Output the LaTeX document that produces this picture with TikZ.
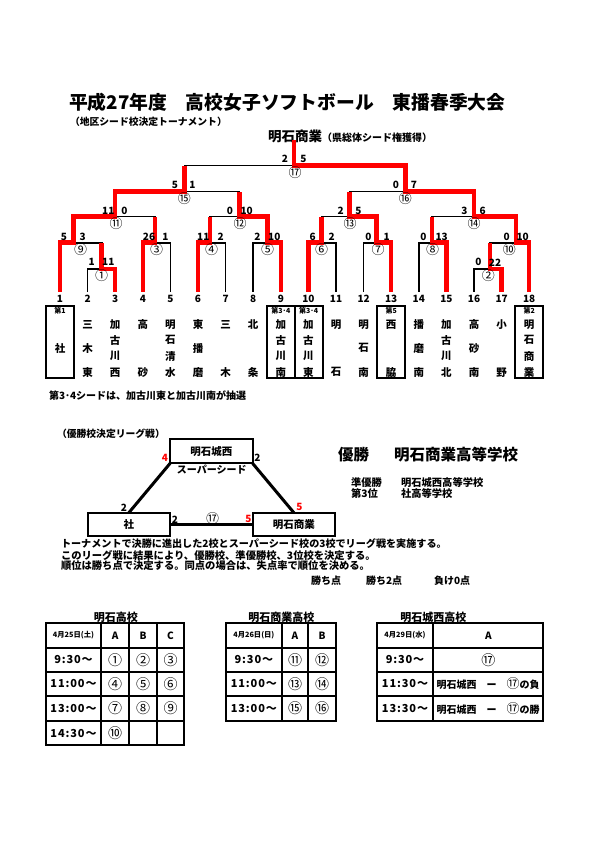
\documentclass[tikz,border=0pt]{standalone}
\usepackage{fontspec}
\setmainfont{Noto Sans CJK JP}
\definecolor{wred}{RGB}{255,0,0}
\newcommand\tmsp[1]{{\addfontfeature{LetterSpace=8}#1}}
\begin{document}
\begin{tikzpicture}[x=1pt,y=-1pt,
  every node/.style={inner sep=0pt, outer sep=0pt},
  bl/.style={line width=1.6pt, black},
  rd/.style={line width=4.5pt, wred, line join=miter},
  sc/.style={font=\fontsize{10}{12}\selectfont\bfseries},
  cn/.style={font=\fontsize{13}{14}\selectfont},
  tn/.style={font=\fontsize{10.5}{12}\selectfont\bfseries},
  seed/.style={font=\fontsize{7}{8}\selectfont\bfseries},
  slotbox/.style={draw, line width=2pt, minimum width=28pt, minimum height=72pt},
  lbox/.style={draw, line width=2pt, minimum width=82.5pt, font=\fontsize{10.5}{12}\selectfont\bfseries},
  lline/.style={line width=3pt},
  body/.style={font=\fontsize{10.3}{12}\selectfont\bfseries, anchor=west},
  tab/.style={line width=2pt},
  tim/.style={font=\fontsize{11}{12}\selectfont\bfseries},
  tcn/.style={font=\fontsize{14}{15}\selectfont},
  hdr/.style={font=\fontsize{7.3}{8}\selectfont\bfseries},
  abc/.style={font=\fontsize{10}{12}\selectfont\bfseries},
  ttl/.style={font=\fontsize{11}{12}\selectfont\bfseries}
]
\fill[white] (0,0) rectangle (595,842);
\useasboundingbox (0,0) rectangle (595,842);

% titles
\node[anchor=west, font=\fontsize{18.8}{20}\selectfont\bfseries] (title) at (69,102) {平成27年度　高校女子ソフトボール　東播春季大会};
\node[anchor=west, font=\fontsize{9.8}{11}\selectfont\bfseries] (sub) at (70,121.7) {（地区シード校決定トーナメント）};
\node[anchor=west, font=\bfseries] (champ) at (268,136.7) {{\fontsize{13.5}{14}\selectfont 明石商業}{\fontsize{10}{11}\selectfont（県総体シード権獲得）}};

% slots
\foreach \i in {1,...,18}{
  \pgfmathsetmacro\xx{60+27.6*(\i-1)}
  \coordinate (s\i) at (\xx,291.7);
  \node[sc] (num\i) at (\xx,299) {\i};
}
% match points
\coordinate (m1) at (101.7,269);
\coordinate (m2) at (490,269);
\coordinate (m3) at (155,242.7);
\coordinate (m4) at (210,242.7);
\coordinate (m5) at (267.7,242.7);
\coordinate (m6) at (321.5,242.7);
\coordinate (m7) at (376.5,242.7);
\coordinate (m8) at (432,242.7);
\coordinate (m9) at (73.3,242.7);
\coordinate (m10) at (516,242.7);
\coordinate (m11) at (115,216.7);
\coordinate (m12) at (239.3,216.7);
\coordinate (m13) at (349.3,216.7);
\coordinate (m14) at (474,216.7);
\coordinate (m15) at (184.3,191.7);
\coordinate (m16) at (405.3,191.7);
\coordinate (m17) at (294,165.7);
\coordinate (top) at (294,140);

% black bracket
\draw[bl] (s2) |- (m1) -| (s3);
\draw[bl] (s16) |- (m2) -| (s17);
\draw[bl] (s4) |- (m3) -| (s5);
\draw[bl] (s6) |- (m4) -| (s7);
\draw[bl] (s8) |- (m5) -| (s9);
\draw[bl] (s10) |- (m6) -| (s11);
\draw[bl] (s12) |- (m7) -| (s13);
\draw[bl] (s14) |- (m8) -| (s15);
\draw[bl] (s1) |- (m9) -| (m1);
\draw[bl] (m2) |- (m10) -| (s18);
\draw[bl] (m9) |- (m11) -| (m3);
\draw[bl] (m4) |- (m12) -| (m5);
\draw[bl] (m6) |- (m13) -| (m7);
\draw[bl] (m8) |- (m14) -| (m10);
\draw[bl] (m11) |- (m15) -| (m12);
\draw[bl] (m13) |- (m16) -| (m14);
\draw[bl] (m15) |- (m17) -| (m16);

% red winners
\draw[rd] (s1) |- (m9) |- (m11) |- (m15) -- (m15 |- m17);
\draw[rd] (s3) |- (m1) -- (m1 |- m9);
\draw[rd] (s4) |- (m3) -- (m3 |- m11);
\draw[rd] (s6) |- (m4) -- (m4 |- m12);
\draw[rd] (s9) |- (m5) |- (m12) -- (m12 |- m15);
\draw[rd] (s10) |- (m6) -- (m6 |- m13);
\draw[rd] (s13) |- (m7) |- (m13) -- (m13 |- m16);
\draw[rd] (s15) |- (m8) -- (m8 |- m14);
\draw[rd] (s17) |- (m2) -- (m2 |- m10);
\draw[rd] (s18) |- (m10) |- (m14) |- (m16) |- (m17) -- (top);

% scores
\foreach \x/\y/\t [count=\k] in {
  91.7/262.3/1, 108.3/262.3/11, 478.3/262.3/0, 495/262.3/22,
  64/236.7/5, 82.7/236.7/3, 149/236.7/26, 165.3/236.7/1, 203.3/236.7/11, 220.7/236.7/2,
  257.3/236.7/2, 274.3/236.7/10, 312.7/236.7/6, 331.7/236.7/2, 368.3/236.7/0, 386.7/236.7/1,
  423.3/236.7/0, 441.7/236.7/13, 506.7/236.7/0, 522.7/236.7/10,
  108.3/211/11, 124.3/211/0, 230/211/0, 246.7/211/10, 340.7/211/2, 358.3/211/5, 464.3/211/3, 482.7/211/6,
  175/185/5, 192.3/185/1, 396/185/0, 414/185/7,
  285/159/2, 303.3/159/5}
  \node[sc] (score\k) at (\x,\y) {\t};

% match numbers
\foreach \x/\y/\t [count=\k] in {
  101.7/275.5/①, 488.3/275.5/②, 156.7/249.2/③, 211.7/249.2/④, 267.7/249.2/⑤, 321.7/249.2/⑥,
  378/249.2/⑦, 432.7/249.2/⑧, 80.7/249.2/⑨, 509.3/249.2/⑩, 116/223.2/⑪, 240/223.2/⑫,
  350/223.2/⑬, 474/223.2/⑭, 184.3/198.2/⑮, 405.3/198.2/⑯, 295/172.2/⑰}
  \node[cn] (mn\k) at (\x,\y) {\t};

% seed boxes
\node[slotbox] (b1) at (60,341.7) {};
\node[slotbox, minimum width=28.3pt] (b9) at (280.85,341.7) {};
\node[slotbox, minimum width=28.3pt] (b10) at (309.15,341.7) {};
\node[slotbox, minimum width=28.3pt] (b13) at (390.85,341.7) {};
\node[slotbox, minimum width=28.3pt] (b18) at (529.15,341.7) {};
\node[seed] (sd1) at (60,311) {第1};
\node[seed] (sd9) at (280.8,311) {第3･4};
\node[seed] (sd10) at (308.6,311) {第3･4};
\node[seed] (sd13) at (391.2,311) {第5};
\node[seed] (sd18) at (529.2,311) {第2};

% team names
\node[tn] (t1b) at (60,348.3) {社};
\foreach \s/\a/\b/\c in {2/三/木/東, 6/東/播/磨, 12/明/石/南, 14/播/磨/南, 16/高/砂/南}{
  \pgfmathsetmacro\xx{60+27.6*(\s-1)}
  \node[tn] (t\s a) at (\xx,324.3) {\a};
  \node[tn] (t\s b) at (\xx,348.3) {\b};
  \node[tn] (t\s c) at (\xx,372.3) {\c};
}
\foreach \s/\a/\b/\c/\d in {3/加/古/川/西, 5/明/石/清/水, 9/加/古/川/南, 10/加/古/川/東, 15/加/古/川/北, 18/明/石/商/業}{
  \pgfmathsetmacro\xx{60+27.6*(\s-1)}
  \node[tn] (t\s a) at (\xx,324.3) {\a};
  \node[tn] (t\s b) at (\xx,340.3) {\b};
  \node[tn] (t\s c) at (\xx,356.3) {\c};
  \node[tn] (t\s d) at (\xx,372.3) {\d};
}
\foreach \s/\a/\b in {4/高/砂, 7/三/木, 8/北/条, 11/明/石, 13/西/脇, 17/小/野}{
  \pgfmathsetmacro\xx{60+27.6*(\s-1)}
  \node[tn] (t\s a) at (\xx,324.3) {\a};
  \node[tn] (t\s b) at (\xx,372.3) {\b};
}
\node[body, font=\fontsize{10}{12}\selectfont\bfseries] (note) at (49,396) {第3･4シードは、加古川東と加古川南が抽選};

% league
\node[body, font=\fontsize{9.8}{12}\selectfont\bfseries] (lg) at (57,434) {（優勝校決定リーグ戦）};
\node[lbox, minimum height=24.3pt] (jo) at (211.35,451.2) {明石城西};
\node[font=\fontsize{10}{12}\selectfont\bfseries] (ss) at (211.7,469.3) {スーパーシード};
\node[lbox, minimum height=23.3pt] (sha) at (128.85,524.35) {社};
\node[lbox, minimum height=23.3pt] (sho) at (293.85,524.35) {明石商業};
\draw[lline] (jo.south west) -- (sha.north);
\draw[lline] (jo.south east) -- (sho.north);
\draw[lline] (sha.east) -- (sho.west);
\node[sc, wred] (l1) at (165,458.3) {4};
\node[sc] (l2) at (257.3,458) {2};
\node[sc] (l3) at (124,507.3) {2};
\node[sc, wred] (l4) at (299.3,507) {5};
\node[sc] (l5) at (175,519.3) {2};
\node[cn] (l6) at (212.7,519) {⑰};
\node[sc, wred] (l7) at (248.3,519.3) {5};

% results
\node[anchor=west, font=\fontsize{15.5}{17}\selectfont\bfseries] (r1) at (338,455) {優勝};
\node[anchor=west, font=\fontsize{15.5}{17}\selectfont\bfseries] (r2) at (394,455) {明石商業高等学校};
\node[anchor=west, font=\fontsize{10.3}{12}\selectfont\bfseries] (r3) at (351,482.7) {準優勝};
\node[anchor=west, font=\fontsize{10.3}{12}\selectfont\bfseries] (r4) at (401,482.7) {明石城西高等学校};
\node[anchor=west, font=\fontsize{10.3}{12}\selectfont\bfseries] (r5) at (351,493.3) {第3位};
\node[anchor=west, font=\fontsize{10.3}{12}\selectfont\bfseries] (r6) at (401,493.3) {社高等学校};

% rules
\node[body, font=\fontsize{10.1}{12}\selectfont\bfseries] (ru1) at (61,544) {トーナメントで決勝に進出した2校とスーパーシード校の3校でリーグ戦を実施する。};
\node[body] (ru2) at (61,555) {このリーグ戦に結果により、優勝校、準優勝校、3位校を決定する。};
\node[body] (ru3) at (61,566) {順位は勝ち点で決定する。同点の場合は、失点率で順位を決める。};
\node[body, font=\fontsize{10}{12}\selectfont\bfseries] (ru4) at (311,581) {勝ち点};
\node[body, font=\fontsize{10}{12}\selectfont\bfseries] (ru5) at (366,581) {勝ち2点};
\node[body, font=\fontsize{10}{12}\selectfont\bfseries] (ru6) at (434,581) {負け0点};

% table 1
\node[ttl] (tt1) at (115.8,617.5) {明石高校};
\draw[tab] (46,623.3) rectangle (184.3,745);
\foreach \y in {647.7,671.7,696,721} \draw[tab] (46,\y) -- (184.3,\y);
\foreach \x in {101,129.3,156.7} \draw[tab] (\x,623.3) -- (\x,745);
\node[hdr] (h1) at (73.5,635.5) {4月25日(土)};
\node[abc] (h1a) at (115.15,635.5) {A};
\node[abc] (h1b) at (143,635.5) {B};
\node[abc] (h1c) at (170.5,635.5) {C};
\foreach \y/\t/\a/\b/\c [count=\k] in {659.7/9:30～/①/②/③, 683.85/11:00～/④/⑤/⑥, 708.5/13:00～/⑦/⑧/⑨}{
  \node[tim] (a\k t) at (73.5,\y) {\tmsp{\t}};
  \node[tcn] (a\k a) at (115.15,\y) {\a};
  \node[tcn] (a\k b) at (143,\y) {\b};
  \node[tcn] (a\k c) at (170.5,\y) {\c};
}
\node[tim] (a4t) at (73.5,733) {\tmsp{14:30～}};
\node[tcn] (a4a) at (115.15,733) {⑩};

% table 2
\node[ttl] (tt2) at (281.3,617.5) {明石商業高校};
\draw[tab] (226,623.3) rectangle (336,721);
\foreach \y in {647.7,671.7,696} \draw[tab] (226,\y) -- (336,\y);
\foreach \x in {281.7,308.3} \draw[tab] (\x,623.3) -- (\x,721);
\node[hdr] (h2) at (253.85,635.5) {4月26日(日)};
\node[abc] (h2a) at (295,635.5) {A};
\node[abc] (h2b) at (322.15,635.5) {B};
\foreach \y/\t/\a/\b [count=\k] in {659.7/9:30～/⑪/⑫, 683.85/11:00～/⑬/⑭, 708.5/13:00～/⑮/⑯}{
  \node[tim] (b\k t) at (253.85,\y) {\tmsp{\t}};
  \node[tcn] (b\k a) at (295,\y) {\a};
  \node[tcn] (b\k b) at (322.15,\y) {\b};
}

% table 3
\node[ttl] (tt3) at (433.3,617.5) {明石城西高校};
\draw[tab] (376.7,623.3) rectangle (543.3,721);
\foreach \y in {647.7,671.7,696} \draw[tab] (376.7,\y) -- (543.3,\y);
\draw[tab] (433.3,623.3) -- (433.3,721);
\node[hdr] (h3) at (405,635.5) {4月29日(水)};
\node[abc] (h3a) at (488.3,635.5) {A};
\node[tim] (c1t) at (405,659.7) {\tmsp{9:30～}};
\node[tcn] (c1a) at (488.3,659.7) {⑰};
\node[tim] (c2t) at (405,683.85) {\tmsp{11:30～}};
\node[anchor=west, font=\fontsize{10}{12}\selectfont\bfseries] (c2a) at (436.5,683.85) {明石城西　ー　{\fontsize{13}{14}\selectfont\mdseries ⑰}の負};
\node[tim] (c3t) at (405,708.5) {\tmsp{13:30～}};
\node[anchor=west, font=\fontsize{10}{12}\selectfont\bfseries] (c3a) at (436.5,708.5) {明石城西　ー　{\fontsize{13}{14}\selectfont\mdseries ⑰}の勝};
\end{tikzpicture}
\end{document}
